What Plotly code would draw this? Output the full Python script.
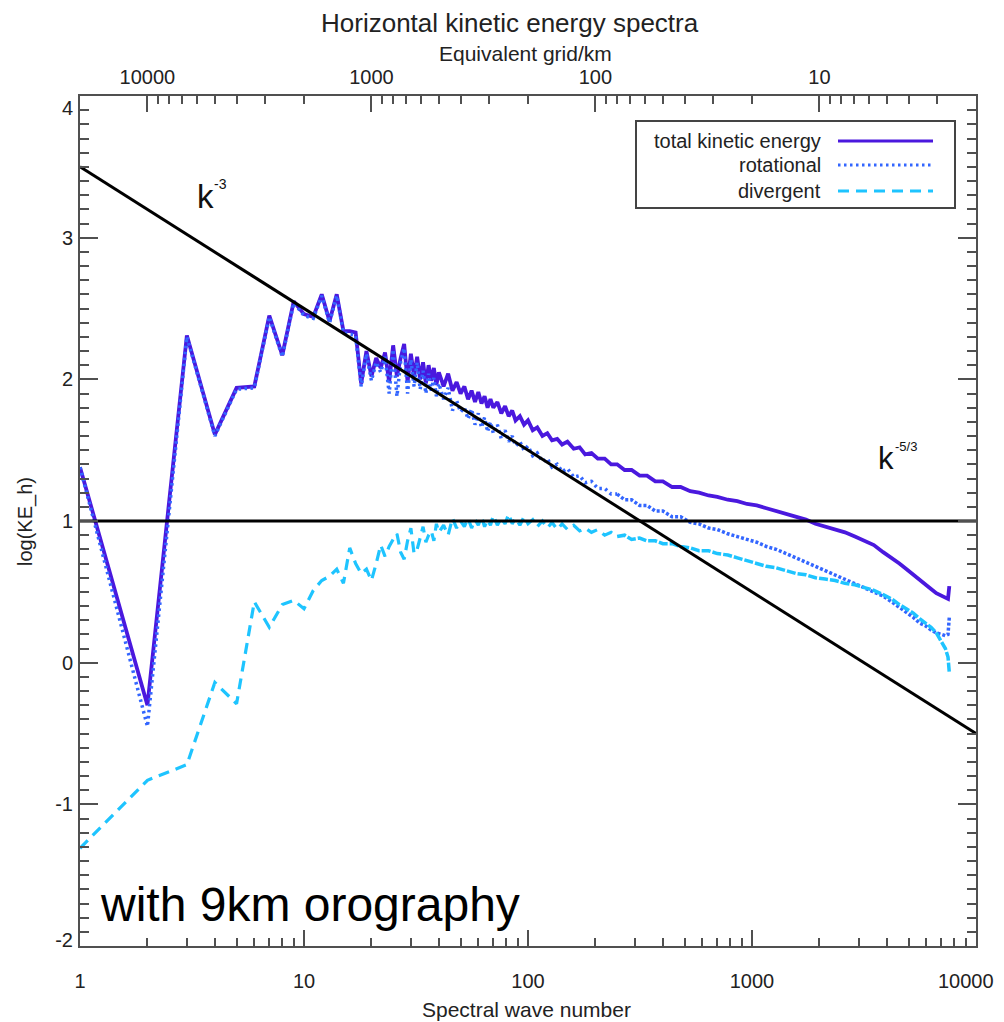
import plotly.graph_objects as go

# ---------------- data ----------------
k_lo = [1, 2, 3, 4, 5, 6, 7, 8, 9, 10, 11, 12, 13, 14, 15, 16, 17, 18, 19, 20,
        21, 22, 23, 24, 25, 26, 27, 28, 29, 30, 31, 32, 33, 34, 35, 36, 37, 38, 39, 40,
        42, 44, 46, 48, 50]
total_lo = [1.38, -0.30, 2.31, 1.61, 1.94, 1.95, 2.45, 2.17, 2.55, 2.46, 2.44, 2.60, 2.41, 2.60, 2.34, 2.34, 2.33, 1.97, 2.20, 2.02,
            2.15, 2.08, 2.19, 1.98, 2.24, 2.02, 2.15, 2.25, 1.98, 2.18, 2.02, 2.16, 2.00, 2.12, 1.97, 2.10, 1.99, 2.08, 1.96, 2.05,
            1.95, 2.04, 1.92, 1.98, 1.90]
rot_lo = [1.38, -0.45, 2.30, 1.60, 1.93, 1.94, 2.44, 2.16, 2.54, 2.45, 2.43, 2.59, 2.40, 2.59, 2.33, 2.32, 2.31, 1.95, 2.18, 1.99,
          2.12, 2.05, 2.16, 1.90, 2.21, 1.88, 2.12, 2.22, 1.90, 2.14, 1.95, 2.12, 1.93, 2.06, 1.90, 2.04, 1.92, 2.01, 1.88, 1.97,
          1.86, 1.94, 1.78, 1.85, 1.77]
div_lo = [-1.31, -0.83, -0.72, -0.14, -0.29, 0.43, 0.25, 0.41, 0.44, 0.38, 0.51, 0.58, 0.61, 0.66, 0.56, 0.81, 0.70, 0.63, 0.66, 0.58,
          0.70, 0.83, 0.75, 0.82, 0.87, 0.91, 0.78, 0.73, 0.86, 0.95, 0.77, 0.80, 0.88, 0.96, 0.85, 0.90, 0.93, 0.86, 0.98, 0.92,
          0.97, 0.90, 1.02, 0.95, 1.00]

k_hi = [52, 54, 56, 58, 60, 62, 64, 66, 68, 70, 73, 76, 79, 82, 85, 88, 92, 96, 100, 105,
        110, 116, 122, 128, 135, 142, 150, 160, 170, 180, 192, 205, 220, 235, 250, 270, 290, 315, 340, 370,
        400, 440, 480, 530, 580, 640, 700, 780, 860, 950, 1050, 1160, 1280, 1420, 1570, 1740, 1920, 2120, 2350, 2600,
        2880, 3180, 3500, 3850, 4200, 4550, 4900, 5250, 5600, 5950, 6300, 6650, 7000, 7300, 7500, 7600]
total_hi = [1.95, 1.86, 1.92, 1.84, 1.91, 1.83, 1.88, 1.80, 1.86, 1.80, 1.84, 1.76, 1.81, 1.74, 1.78, 1.71, 1.74, 1.68, 1.71, 1.64,
            1.66, 1.60, 1.62, 1.57, 1.58, 1.54, 1.56, 1.51, 1.52, 1.47, 1.48, 1.44, 1.44, 1.40, 1.40, 1.36, 1.36, 1.32, 1.32, 1.28,
            1.28, 1.24, 1.24, 1.21, 1.20, 1.18, 1.17, 1.15, 1.14, 1.12, 1.11, 1.09, 1.07, 1.05, 1.03, 1.01, 0.98, 0.96, 0.94, 0.92,
            0.89, 0.86, 0.83, 0.78, 0.74, 0.70, 0.66, 0.62, 0.58, 0.55, 0.52, 0.49, 0.47, 0.46, 0.45, 0.54]
rot_hi = [1.80, 1.72, 1.79, 1.68, 1.76, 1.66, 1.73, 1.63, 1.70, 1.62, 1.68, 1.58, 1.64, 1.56, 1.60, 1.53, 1.56, 1.50, 1.53, 1.46,
          1.48, 1.42, 1.44, 1.38, 1.40, 1.35, 1.37, 1.31, 1.32, 1.27, 1.28, 1.23, 1.23, 1.19, 1.19, 1.15, 1.15, 1.11, 1.11, 1.07,
          1.07, 1.03, 1.03, 0.99, 0.98, 0.95, 0.94, 0.91, 0.89, 0.87, 0.85, 0.82, 0.80, 0.77, 0.74, 0.71, 0.68, 0.65, 0.62, 0.59,
          0.56, 0.53, 0.50, 0.47, 0.43, 0.39, 0.35, 0.32, 0.28, 0.26, 0.23, 0.21, 0.20, 0.19, 0.20, 0.32]
div_hi = [0.96, 1.02, 0.95, 1.01, 0.97, 1.03, 0.96, 1.01, 0.97, 1.04, 0.97, 1.02, 0.98, 1.05, 0.98, 1.02, 0.97, 1.03, 0.98, 1.01,
          0.96, 1.00, 0.95, 0.99, 0.94, 0.98, 0.94, 0.97, 0.93, 0.95, 0.92, 0.94, 0.90, 0.92, 0.89, 0.90, 0.87, 0.88, 0.86, 0.86,
          0.84, 0.84, 0.82, 0.81, 0.79, 0.79, 0.77, 0.76, 0.74, 0.72, 0.70, 0.68, 0.67, 0.65, 0.63, 0.62, 0.60, 0.59, 0.58, 0.56,
          0.55, 0.53, 0.51, 0.48, 0.45, 0.41, 0.38, 0.35, 0.31, 0.28, 0.25, 0.21, 0.15, 0.10, 0.04, -0.07]

ref_k = [1, 10000]
ref_k3 = [3.5, -0.5]
ref_k53 = [1.0, 1.0]

x_tick_vals = [1, 10, 100, 1000, 10000]
x_tick_text = ["1", "10", "100", "1000", "10000"]
x_label_pos = [1, 10, 100, 1000, 9000]
grid_tick_vals = [10000, 1000, 100, 10]
grid_tick_text = ["10000", "1000", "100", "10"]
y_tick_vals = [-2, -1, 0, 1, 2, 3, 4]
y_tick_text = ["-2", "-1", "0", "1", "2", "3", "4"]
y_label_pos = [-1.955, -1, 0, 1, 2, 3, 3.915]

series_names = ["total kinetic energy", "rotational", "divergent"]
C_TOT = "#4a18de"
C_ROT = "#3366ff"
C_DIV = "#1ec4ff"
DOT = "2.5px,3.5px"
DASH = "11px,7px"
DOT_DENSE = "3px,2px"
DASH_DENSE = "9px,2px"
K_SPLIT = 250   # beyond this the noisy reference curves read as nearly continuous bands

FONT = "Liberation Sans, Arial, Helvetica, sans-serif"
AX = "#505050"

# page body has an 8px margin: plot area is placed so it lands at page x 80..976, y 96..946
OFF = 8
PL, PT, PW, PH = 80, 96, 896, 850
W, H = 996, 1014

k_all = k_lo + k_hi
tot_all = total_lo + total_hi
rot_all = rot_lo + rot_hi
div_all = div_lo + div_hi
i_split = k_all.index(K_SPLIT)

fig = go.Figure()
fig.add_trace(go.Scatter(x=k_all, y=tot_all, mode="lines", name=series_names[0],
                         line=dict(color=C_TOT, width=3.8)))
fig.add_trace(go.Scatter(x=k_all[:i_split + 1], y=rot_all[:i_split + 1], mode="lines", name=series_names[1],
                         line=dict(color=C_ROT, width=3.5, dash=DOT)))
fig.add_trace(go.Scatter(x=k_all[i_split:], y=rot_all[i_split:], mode="lines", name=series_names[1],
                         line=dict(color=C_ROT, width=3.5, dash=DOT_DENSE)))
fig.add_trace(go.Scatter(x=k_all[:i_split + 1], y=div_all[:i_split + 1], mode="lines", name=series_names[2],
                         line=dict(color=C_DIV, width=3.2, dash=DASH)))
fig.add_trace(go.Scatter(x=k_all[i_split:], y=div_all[i_split:], mode="lines", name=series_names[2],
                         line=dict(color=C_DIV, width=3.5, dash=DASH_DENSE)))
fig.add_trace(go.Scatter(x=ref_k, y=ref_k3, mode="lines", line=dict(color="black", width=3)))
fig.add_trace(go.Scatter(x=ref_k, y=ref_k53, mode="lines", line=dict(color="black", width=3)))
# carriers for the top (grid/km) axis and the label-only overlay axes
fig.add_trace(go.Scatter(x=[20000, 2], y=[None, None], xaxis="x2", yaxis="y", mode="lines",
                         hoverinfo="skip"))
fig.add_trace(go.Scatter(x=[1, 10000], y=[None, None], xaxis="x", yaxis="y3", mode="lines",
                         hoverinfo="skip"))
fig.add_trace(go.Scatter(x=[1, 10000], y=[None, None], xaxis="x3", yaxis="y", mode="lines",
                         hoverinfo="skip"))

minor_k = [m * 10 ** d for d in range(4) for m in range(2, 10)]
minor_grid = [m * 10 ** d for d in range(0, 4) for m in range(3 if d == 0 else 2, 10)]
minor_y = [v / 10 for v in range(-20, 41) if v % 10 != 0]

fig.update_layout(
    width=W, height=H,
    margin=dict(l=PL - OFF, r=W - (PL - OFF) - PW, t=PT - OFF, b=H - (PT - OFF) - PH, autoexpand=False),
    plot_bgcolor="white", paper_bgcolor="white",
    showlegend=False,
    font=dict(family=FONT, size=20, color="#222"),
    xaxis=dict(type="log", range=[0, 4], showgrid=False, zeroline=False,
               showline=True, linecolor=AX, linewidth=2, mirror=False,
               ticks="inside", ticklen=16, tickwidth=1.5, tickcolor=AX,
               tickmode="array", tickvals=x_tick_vals, showticklabels=False,
               minor=dict(tickmode="array", tickvals=minor_k, ticks="inside", ticklen=8,
                          tickwidth=1.5, tickcolor=AX, showgrid=False)),
    xaxis3=dict(type="log", range=[0, 4], overlaying="x", side="bottom", anchor="y",
                showgrid=False, zeroline=False, showline=False, ticks="",
                tickmode="array", tickvals=x_label_pos, ticktext=x_tick_text,
                ticklabelstandoff=21, tickfont=dict(size=20, color="#222")),
    xaxis2=dict(type="log", overlaying="x", side="top", anchor="y",
                range=[4.30103, 0.30103], autorange=False, showgrid=False, zeroline=False,
                showline=True, linecolor=AX, linewidth=2,
                ticks="inside", ticklen=16, tickwidth=1.5, tickcolor=AX,
                tickmode="array", tickvals=grid_tick_vals, ticktext=grid_tick_text,
                ticklabelstandoff=2,
                tickfont=dict(size=20, color="#222"),
                minor=dict(tickmode="array", tickvals=minor_grid, ticks="inside", ticklen=8,
                           tickwidth=1.5, tickcolor=AX, showgrid=False)),
    yaxis=dict(range=[-2, 4], showgrid=False, zeroline=False,
               showline=True, linecolor=AX, linewidth=2, mirror="ticks",
               ticks="inside", ticklen=18, tickwidth=1.5, tickcolor=AX,
               tickmode="array", tickvals=y_tick_vals, showticklabels=False,
               minor=dict(tickmode="array", tickvals=minor_y, ticks="inside", ticklen=9,
                          tickwidth=1.5, tickcolor=AX, showgrid=False)),
    yaxis3=dict(range=[-2, 4], overlaying="y", side="left", anchor="x",
                showgrid=False, zeroline=False, showline=False, ticks="",
                tickmode="array", tickvals=y_label_pos,
                ticktext=y_tick_text, ticklabelstandoff=6,
                tickfont=dict(size=20, color="#222")),
)

def px(xp):
    return (xp - PL) / float(PW)

def py(yp):
    return (PT + PH - yp) / float(PH)

ann = []
ann.append(dict(text="Horizontal kinetic energy spectra", x=px(510), y=py(23), font=dict(size=26, color="#222")))
ann.append(dict(text="Equivalent grid/km", x=px(525), y=py(53), font=dict(size=21, color="#222")))
ann.append(dict(text="Spectral wave number", x=px(526), y=py(1009), font=dict(size=21, color="#222")))
ann.append(dict(text="log(KE_h)", x=px(25), y=py(522), textangle=-90, font=dict(size=20, color="#222")))
ann.append(dict(text="with 9km orography", x=px(98), y=py(904), xanchor="left", font=dict(size=48, color="black")))
ann.append(dict(text="k", x=px(205), y=py(196), font=dict(size=33, color="#111")))
ann.append(dict(text="-3", x=px(220), y=py(184), font=dict(size=14, color="#111")))
ann.append(dict(text="k", x=px(886), y=py(459), font=dict(size=31, color="#111")))
ann.append(dict(text="-5/3", x=px(906), y=py(446), font=dict(size=13, color="#111")))
# legend
leg_y = [141, 165, 191]
for name, yy in zip(series_names, leg_y):
    ann.append(dict(text=name, x=px(823), y=py(yy), xanchor="right", font=dict(size=20, color="#222")))
for a in ann:
    a.setdefault("xref", "paper")
    a.setdefault("yref", "paper")
    a.setdefault("showarrow", False)
    a.setdefault("xanchor", "center")
    a.setdefault("yanchor", "middle")
fig.update_layout(annotations=ann)

shapes = [dict(type="rect", xref="paper", yref="paper", x0=px(636), x1=px(955), y0=py(208), y1=py(121),
               line=dict(color="#444", width=2), fillcolor="white", layer="above")]
for col, dsh, yy in zip([C_TOT, C_ROT, C_DIV], ["solid", DOT, DASH], leg_y):
    shapes.append(dict(type="line", xref="paper", yref="paper", x0=px(838), x1=px(933), y0=py(yy), y1=py(yy),
                       line=dict(color=col, width=3, dash=dsh), layer="above"))
fig.update_layout(shapes=shapes)

fig.write_html("out.html")
